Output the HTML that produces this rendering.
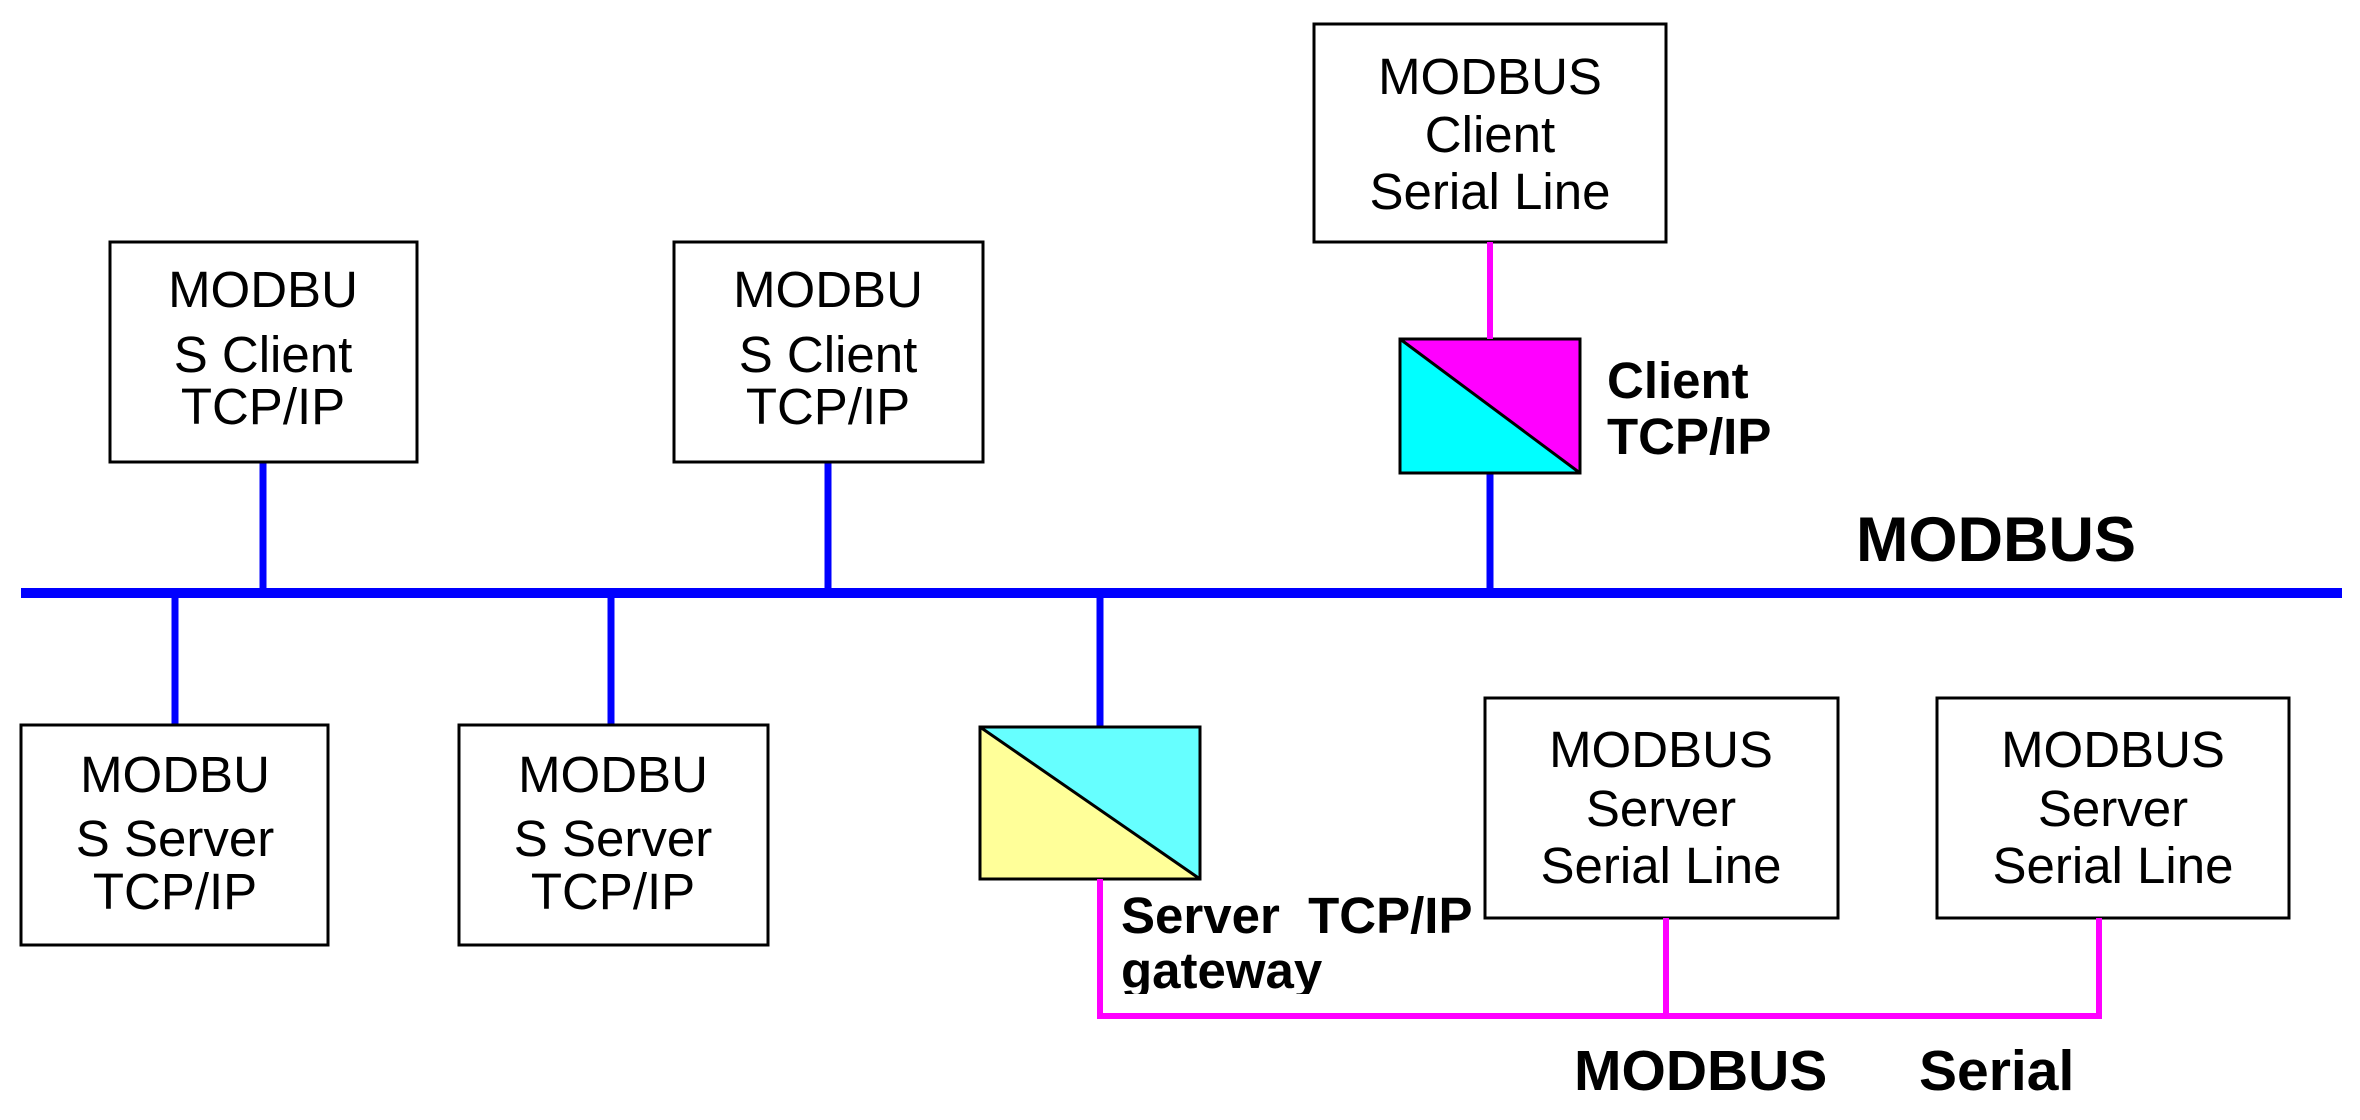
<!DOCTYPE html>
<html><head><meta charset="utf-8"><style>html,body{margin:0;padding:0;background:#fff}svg{display:block}</style></head><body>
<svg width="2360" height="1120" viewBox="0 0 2360 1120" xmlns="http://www.w3.org/2000/svg" font-family="Liberation Sans, Arial, sans-serif">
<rect width="2360" height="1120" fill="#fff"/>
<line x1="21" y1="593" x2="2342" y2="593" stroke="#0000ff" stroke-width="10"/>
<g stroke="#0000ff" stroke-width="7">
<line x1="263" y1="462" x2="263" y2="593"/>
<line x1="828" y1="462" x2="828" y2="593"/>
<line x1="1490" y1="473" x2="1490" y2="593"/>
<line x1="175" y1="593" x2="175" y2="725"/>
<line x1="611" y1="593" x2="611" y2="725"/>
<line x1="1100" y1="593" x2="1100" y2="727"/>
</g>
<g fill="#fff" stroke="#000" stroke-width="3">
<rect x="110" y="242" width="307" height="220"/>
<rect x="674" y="242" width="309" height="220"/>
<rect x="1314" y="24" width="352" height="218"/>
<rect x="21" y="725" width="307" height="220"/>
<rect x="459" y="725" width="309" height="220"/>
<rect x="1485" y="698" width="353" height="220"/>
<rect x="1937" y="698" width="352" height="220"/>
</g>
<polygon points="1400,339 1580,339 1580,473" fill="#ff00ff"/>
<polygon points="1400,339 1580,473 1400,473" fill="#00ffff"/>
<rect x="1400" y="339" width="180" height="134" fill="none" stroke="#000" stroke-width="3"/>
<line x1="1400" y1="339" x2="1580" y2="473" stroke="#000" stroke-width="3"/>
<polygon points="980,727 1200,727 1200,879" fill="#66ffff"/>
<polygon points="980,727 1200,879 980,879" fill="#ffff99"/>
<rect x="980" y="727" width="220" height="152" fill="none" stroke="#000" stroke-width="3"/>
<line x1="980" y1="727" x2="1200" y2="879" stroke="#000" stroke-width="3"/>
<g font-size="51" text-anchor="middle" fill="#000">
<text x="263" y="307">MODBU</text><text x="263" y="372">S Client</text><text x="263" y="424">TCP/IP</text>
<text x="828" y="307">MODBU</text><text x="828" y="372">S Client</text><text x="828" y="424">TCP/IP</text>
<text x="1490" y="94">MODBUS</text><text x="1490" y="152">Client</text><text x="1490" y="209">Serial Line</text>
<text x="175" y="792">MODBU</text><text x="175" y="856">S Server</text><text x="175" y="909">TCP/IP</text>
<text x="613" y="792">MODBU</text><text x="613" y="856">S Server</text><text x="613" y="909">TCP/IP</text>
<text x="1661" y="767">MODBUS</text><text x="1661" y="826">Server</text><text x="1661" y="883">Serial Line</text>
<text x="2113" y="767">MODBUS</text><text x="2113" y="826">Server</text><text x="2113" y="883">Serial Line</text>
</g>
<g font-weight="bold" fill="#000">
<text x="1607" y="398" font-size="51">Client</text>
<text x="1607" y="454" font-size="51">TCP/IP</text>
<text x="1856" y="561" font-size="63">MODBUS</text>
<text x="1121" y="933" font-size="51" xml:space="preserve">Server  TCP/IP</text>
<text x="1121" y="988" font-size="51">gateway</text>
<text x="1574" y="1090" font-size="57">MODBUS</text>
<text x="1919" y="1090" font-size="57">Serial</text>
</g>
<rect x="1105" y="994" width="260" height="19" fill="#fff"/>
<g stroke="#ff00ff" stroke-width="6" fill="none">
<line x1="1490" y1="242" x2="1490" y2="339"/>
<polyline points="1100,879 1100,1016 2099,1016 2099,918"/>
<line x1="1666" y1="918" x2="1666" y2="1016"/>
</g>
</svg>
</body></html>
